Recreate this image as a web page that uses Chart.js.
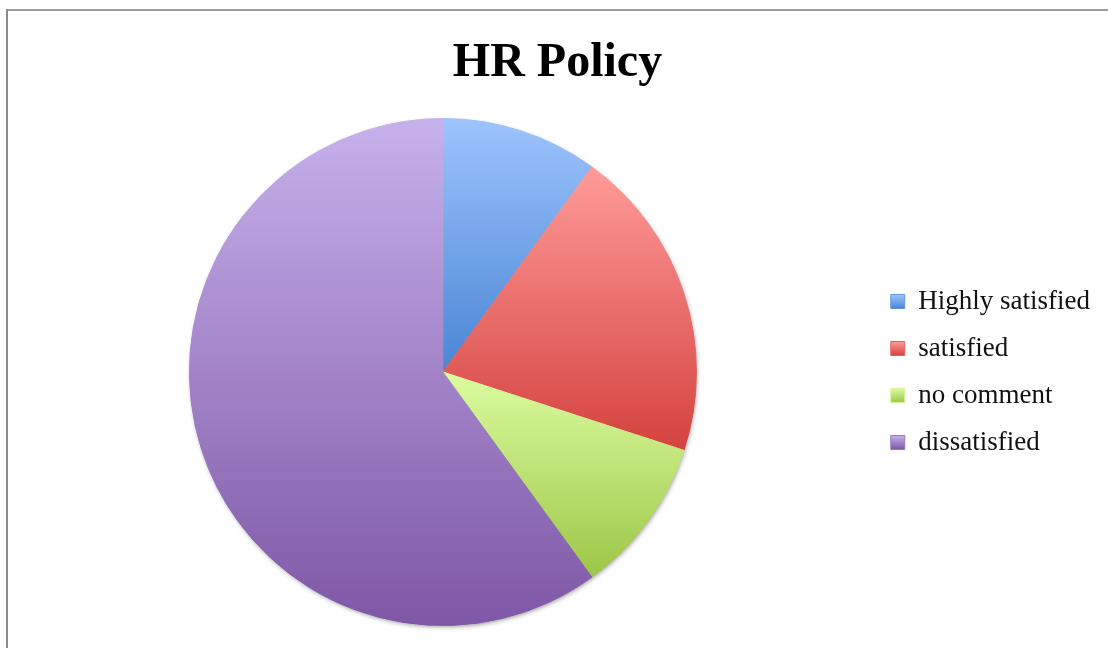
<!DOCTYPE html>
<html>
<head>
<meta charset="utf-8">
<title>HR Policy</title>
<script src="https://cdn.jsdelivr.net/npm/chart.js@4/dist/chart.umd.min.js"></script>
<style>
  html, body { margin: 0; padding: 0; background: #fff; }
  #wrap { position: relative; width: 1108px; height: 648px; }
</style>
</head>
<body>
<div id="wrap"><canvas id="hr-chart" width="1108" height="648"></canvas></div>
<script>
"use strict";

// survey answers, share of staff (%)
const categories = ["Highly satisfied", "satisfied", "no comment", "dissatisfied"];
const shares = [10, 20, 10, 60];

// each slice fades from a light top to a darker bottom
const topColors = ["#9dc4fc", "#ff9b99", "#dcfca0", "#c7b1eb"];
const bottomColors = ["#4a85d5", "#d4423e", "#9cc647", "#7e57a6"];
const midColors = ["#73a5e8", "#ea6f6b", "#bce173", "#a384c8"];

// vertical gradient over the bounding box of one slice
function sliceGradient(context) {
  const chart = context.chart;
  const i = context.dataIndex;
  const area = chart.chartArea;
  if (!area || i === undefined) return midColors[i] || midColors[0];

  const cx = (area.left + area.right) / 2;
  const cy = (area.top + area.bottom) / 2;
  const r = Math.min(area.right - area.left, area.bottom - area.top) / 2;

  const total = shares.reduce((a, b) => a + b, 0);
  let before = 0;
  for (let k = 0; k < i; k++) before += shares[k];
  const a0 = -Math.PI / 2 + (before / total) * Math.PI * 2;
  const a1 = -Math.PI / 2 + ((before + shares[i]) / total) * Math.PI * 2;

  let minY = Math.min(cy, cy + r * Math.sin(a0), cy + r * Math.sin(a1));
  let maxY = Math.max(cy, cy + r * Math.sin(a0), cy + r * Math.sin(a1));
  // top of the circle sits at -90deg (or 270deg), bottom at 90deg
  [-Math.PI / 2, Math.PI / 2, Math.PI * 1.5].forEach(function (a) {
    if (a >= a0 && a <= a1) {
      minY = Math.min(minY, cy + r * Math.sin(a));
      maxY = Math.max(maxY, cy + r * Math.sin(a));
    }
  });

  const grad = chart.ctx.createLinearGradient(0, minY, 0, maxY);
  grad.addColorStop(0, topColors[i]);
  grad.addColorStop(1, bottomColors[i]);
  return grad;
}

// grey frame on the left and top edge
const framePlugin = {
  id: "frame",
  beforeDraw(chart) {
    const ctx = chart.ctx;
    ctx.save();
    ctx.fillStyle = "#ffffff";
    ctx.fillRect(0, 0, chart.width, chart.height);
    ctx.fillStyle = "#9c9c9c";
    ctx.fillRect(6, 9, chart.width - 6, 2);
    ctx.fillStyle = "#8a8a8a";
    ctx.fillRect(6, 9, 2, chart.height - 9);
    ctx.restore();

    // gradient swatches in the legend
    const legend = chart.legend;
    if (legend && legend.legendItems && legend.legendHitBoxes) {
      legend.legendItems.forEach(function (item, i) {
        const box = legend.legendHitBoxes[i];
        if (!box) return;
        const top = box.top + (box.height - 14) / 2;
        const g = ctx.createLinearGradient(0, top, 0, top + 14);
        g.addColorStop(0, topColors[i]);
        g.addColorStop(1, bottomColors[i]);
        item.fillStyle = g;
      });
    }
  }
};

// soft drop shadow under the whole pie
const shadowPlugin = {
  id: "pieShadow",
  beforeDatasetsDraw(chart) {
    const arc = chart.getDatasetMeta(0).data[0];
    if (!arc) return;
    const ctx = chart.ctx;
    ctx.save();
    ctx.shadowColor = "rgba(0, 0, 0, 0.45)";
    ctx.shadowBlur = 5;
    ctx.shadowOffsetX = 1;
    ctx.shadowOffsetY = 2;
    ctx.beginPath();
    ctx.arc(arc.x, arc.y, arc.outerRadius - 1, 0, Math.PI * 2);
    ctx.fillStyle = "#ffffff";
    ctx.fill();
    ctx.restore();
  }
};

const ctx = document.getElementById("hr-chart");

new Chart(ctx, {
  type: "pie",
  data: {
    labels: categories,
    datasets: [
      {
        data: shares,
        backgroundColor: sliceGradient,
        borderColor: sliceGradient,
        borderWidth: 1
      }
    ]
  },
  options: {
    responsive: false,
    animation: false,
    layout: {
      padding: { left: 15, right: 8, top: 0, bottom: 22 }
    },
    plugins: {
      title: {
        display: true,
        text: "HR Policy",
        color: "#000000",
        font: { family: "'Liberation Serif', serif", size: 48, weight: "bold", lineHeight: 1.2 },
        padding: { top: 35, bottom: 25.4 }
      },
      legend: {
        display: true,
        position: "right",
        align: "center",
        fullSize: false,
        labels: {
          boxWidth: 14,
          boxHeight: 14,
          padding: 20,
          color: "#111111",
          font: { family: "'Liberation Serif', serif", size: 27 }
        }
      },
      tooltip: { enabled: false }
    }
  },
  plugins: [framePlugin, shadowPlugin]
});
</script>
</body>
</html>
